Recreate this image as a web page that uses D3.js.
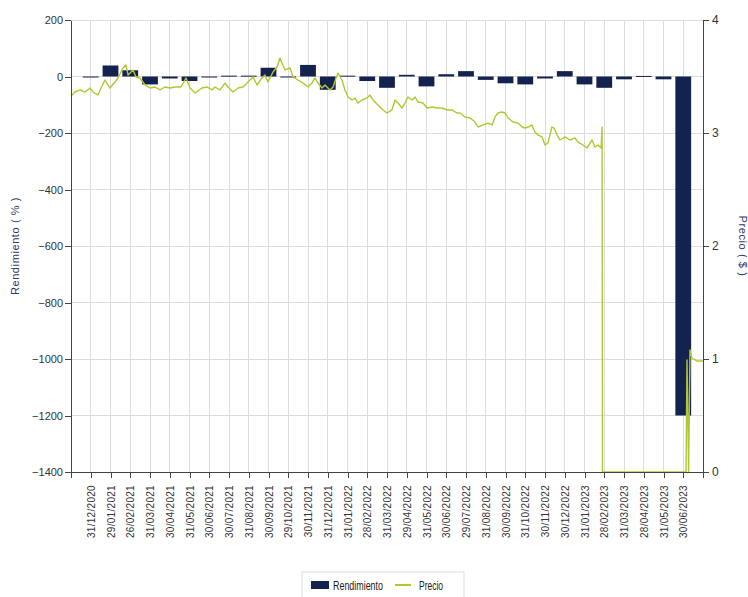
<html lang="es">
<head>
<meta charset="utf-8">
<title>Rendimiento y Precio</title>
<style>
    body {
        margin: 0;
        padding: 0;
        background-color: white;
    }
    svg {
        background-color: white;
        font-family: "Liberation Sans", Arial, sans-serif;
    }
    .grid line {
        stroke: #dcdcdc;
        stroke-width: 1;
        shape-rendering: crispEdges;
    }
    .axis path,
    .axis line {
        fill: none;
        stroke: #444;
        shape-rendering: crispEdges;
    }
    .axis text {
        fill: #333;
    }
    .titulo {
        fill: #2b3a66;
        font-size: 11px;
        letter-spacing: 0.6px;
    }
</style>
</head>
<body>
<div id="chart"></div>

<script src="https://d3js.org/d3.v7.min.js"></script>
<script>

// fechas de cierre de mes (eje x)
var fechas = ["31/12/2020", "29/01/2021", "26/02/2021", "31/03/2021", "30/04/2021", "31/05/2021",
    "30/06/2021", "30/07/2021", "31/08/2021", "30/09/2021", "29/10/2021", "30/11/2021",
    "31/12/2021", "31/01/2022", "28/02/2022", "31/03/2022", "29/04/2022", "31/05/2022",
    "30/06/2022", "29/07/2022", "31/08/2022", "30/09/2022", "31/10/2022", "30/11/2022",
    "30/12/2022", "31/01/2023", "28/02/2023", "31/03/2023", "28/04/2023", "31/05/2023",
    "30/06/2023"];

// rendimiento mensual (%)
var rendimiento = [-3, 39, 22, -28, -7, -16, -2, 3, 3, 31, -2, 41,
    -47, 3, -16, -40, 6, -35, 8, 19, -12, -24, -28, -7,
    19, -28, -40, -10, 2, -10, -1200];

// precio diario ($): posicion en pasos de categoria (0 = eje izquierdo) y valor
var precioPos = [0, 0.20, 0.46, 0.71, 0.96, 1.11, 1.37, 1.52, 1.72, 1.97, 2.23, 2.38, 2.63, 2.78, 2.89,
    3.14, 3.29, 3.49, 3.75, 4.00, 4.25, 4.51, 4.76, 5.01, 5.27, 5.57, 5.82, 6.03, 6.28, 6.63,
    6.89, 7.14, 7.29, 7.54, 7.80, 7.95, 8.20, 8.46, 8.71, 8.96, 9.22, 9.42, 9.67, 9.82, 9.97,
    10.23, 10.43, 10.58, 10.68, 10.84, 11.09, 11.24, 11.49, 11.75, 12.00, 12.20, 12.35, 12.51,
    12.71, 12.86, 13.11, 13.27, 13.42, 13.52, 13.72, 13.87, 14.03, 14.23, 14.38, 14.53, 14.73,
    14.99, 15.14, 15.29, 15.54, 15.80, 16.00, 16.25, 16.41, 16.56, 16.76, 16.91, 17.06, 17.27,
    17.42, 17.57, 17.82, 18.03, 18.28, 18.53, 18.78, 19.04, 19.29, 19.54, 19.70, 19.95, 20.20,
    20.46, 20.61, 20.86, 21.11, 21.32, 21.47, 21.62, 21.82, 21.97, 22.13, 22.38, 22.63, 22.84,
    22.99, 23.14, 23.34, 23.49, 23.65, 23.85, 24.00, 24.15, 24.35, 24.46, 24.61, 24.76, 25.01,
    25.27, 25.52, 25.67, 25.92, 26.13, 26.28, 26.38, 26.53, 26.68, 26.84, 26.89, 26.91, 31.14,
    31.19, 31.27, 31.34, 31.44, 31.70, 32.00];

var precioVal = [3.327, 3.363, 3.381, 3.363, 3.398, 3.363, 3.336, 3.398, 3.469, 3.398, 3.451, 3.487,
    3.575, 3.602, 3.513, 3.558, 3.496, 3.487, 3.425, 3.398, 3.407, 3.381, 3.407, 3.398, 3.407,
    3.407, 3.487, 3.398, 3.354, 3.398, 3.407, 3.381, 3.407, 3.381, 3.442, 3.407, 3.363, 3.398,
    3.407, 3.451, 3.496, 3.425, 3.487, 3.513, 3.451, 3.540, 3.584, 3.664, 3.619, 3.558, 3.575,
    3.496, 3.469, 3.442, 3.407, 3.442, 3.487, 3.442, 3.398, 3.425, 3.381, 3.407, 3.487, 3.531,
    3.469, 3.381, 3.319, 3.292, 3.310, 3.265, 3.292, 3.310, 3.336, 3.292, 3.248, 3.204, 3.177,
    3.204, 3.292, 3.265, 3.221, 3.265, 3.319, 3.292, 3.319, 3.274, 3.265, 3.221, 3.230, 3.221,
    3.221, 3.204, 3.204, 3.177, 3.177, 3.142, 3.133, 3.097, 3.053, 3.071, 3.088, 3.071, 3.142,
    3.177, 3.186, 3.177, 3.133, 3.097, 3.088, 3.053, 3.044, 3.053, 3.071, 3.009, 2.982, 2.965,
    2.894, 2.912, 3.053, 3.044, 2.982, 2.938, 2.965, 2.938, 2.956, 2.920, 2.894, 2.867, 2.912,
    2.938, 2.876, 2.894, 2.867, 3.053, 0, 0, 0.991, 0, 1.080, 1.009, 0.982, 0.982];

// ticks de los ejes
var ticksRend = [200, 0, -200, -400, -600, -800, -1000, -1200, -1400];
var ticksPrecio = [4, 3, 2, 1, 0];

var width = 748;
var height = 597;
var margin = {top: 20, right: 45, bottom: 125, left: 71};
var plotW = width - margin.left - margin.right;
var plotH = height - margin.top - margin.bottom;

var svg = d3.select("#chart")
    .append("svg")
    .attr("width", width)
    .attr("height", height);

var g = svg.append("g")
    .attr("transform", "translate(" + margin.left + "," + margin.top + ")");

var x = d3.scalePoint()
    .domain(fechas)
    .range([0, plotW])
    .padding(1);

var xPos = d3.scaleLinear()
    .domain([0, fechas.length + 1])
    .range([0, plotW]);

var yL = d3.scaleLinear()
    .domain([-1400, 200])
    .range([plotH, 0]);

var yR = d3.scaleLinear()
    .domain([0, 4])
    .range([plotH, 0]);

// cuadricula
var grid = g.append("g").attr("class", "grid");
grid.selectAll(".h")
    .data(d3.range(-1200, 201, 200))
    .enter()
    .append("line")
    .attr("x1", 0)
    .attr("x2", plotW)
    .attr("y1", function(d){ return yL(d); })
    .attr("y2", function(d){ return yL(d); });
grid.selectAll(".v")
    .data(fechas)
    .enter()
    .append("line")
    .attr("x1", function(d){ return x(d); })
    .attr("x2", function(d){ return x(d); })
    .attr("y1", 0)
    .attr("y2", plotH);

// barras
var barW = x.step() * 0.8;
g.append("g")
    .selectAll("rect")
    .data(rendimiento)
    .enter()
    .append("rect")
    .attr("x", function(d, i){ return x(fechas[i]) - barW / 2; })
    .attr("y", function(d){ return yL(Math.max(d, 0)); })
    .attr("width", barW)
    .attr("height", function(d){ return Math.max(1, Math.abs(yL(d) - yL(0))); })
    .attr("fill", "#14224f");

// linea de precio
var linea = d3.line()
    .x(function(d){ return xPos(d[0]); })
    .y(function(d){ return yR(d[1]); });

g.append("path")
    .datum(d3.zip(precioPos, precioVal))
    .attr("d", linea)
    .attr("fill", "none")
    .attr("stroke", "#b2c72e")
    .attr("stroke-width", 1.4)
    .attr("stroke-linejoin", "round");

// ejes
g.append("g")
    .attr("class", "axis")
    .call(d3.axisLeft(yL).tickValues(ticksRend).tickFormat(d3.format("d")).tickSize(6).tickPadding(2).tickSizeOuter(0))
    .selectAll("text")
    .style("font-size", "11px");

g.append("g")
    .attr("class", "axis")
    .attr("transform", "translate(" + plotW + ",0)")
    .call(d3.axisRight(yR).tickValues(ticksPrecio).tickFormat(d3.format("d")).tickSize(6).tickPadding(3).tickSizeOuter(0))
    .selectAll("text")
    .style("font-size", "12px");

var xAxis = g.append("g")
    .attr("class", "axis")
    .attr("transform", "translate(0," + plotH + ")")
    .call(d3.axisBottom(x).tickSize(6).tickSizeOuter(6));

xAxis.selectAll("text")
    .style("font-size", "10px")
    .style("letter-spacing", "0.3px")
    .attr("text-anchor", "end")
    .attr("transform", "rotate(-90)")
    .attr("x", -13)
    .attr("y", 0)
    .attr("dy", "0.35em");

// titulos de ejes
svg.append("text")
    .attr("class", "titulo")
    .attr("transform", "translate(19," + (margin.top + plotH / 2) + ") rotate(-90)")
    .attr("text-anchor", "middle")
    .text("Rendimiento  ( % )");

svg.append("text")
    .attr("class", "titulo")
    .attr("transform", "translate(739," + (margin.top + plotH / 2) + ") rotate(90)")
    .attr("text-anchor", "middle")
    .text("Precio  ( $ )");

// leyenda
var leyenda = svg.append("g")
    .attr("transform", "translate(302,572)");

leyenda.append("rect")
    .attr("width", 162)
    .attr("height", 30)
    .attr("fill", "white")
    .attr("stroke", "#dddddd");

leyenda.append("rect")
    .attr("x", 9)
    .attr("y", 9)
    .attr("width", 18)
    .attr("height", 8)
    .attr("fill", "#14224f");

leyenda.append("text")
    .attr("x", 31)
    .attr("y", 18)
    .style("font-size", "13px")
    .attr("fill", "#222")
    .attr("textLength", 50)
    .attr("lengthAdjust", "spacingAndGlyphs")
    .text("Rendimiento");

leyenda.append("line")
    .attr("x1", 93)
    .attr("x2", 109)
    .attr("y1", 13)
    .attr("y2", 13)
    .attr("stroke", "#b2c72e")
    .attr("stroke-width", 2);

leyenda.append("text")
    .attr("x", 117)
    .attr("y", 18)
    .style("font-size", "13px")
    .attr("fill", "#222")
    .attr("textLength", 24)
    .attr("lengthAdjust", "spacingAndGlyphs")
    .text("Precio");

</script>
</body>
</html>
